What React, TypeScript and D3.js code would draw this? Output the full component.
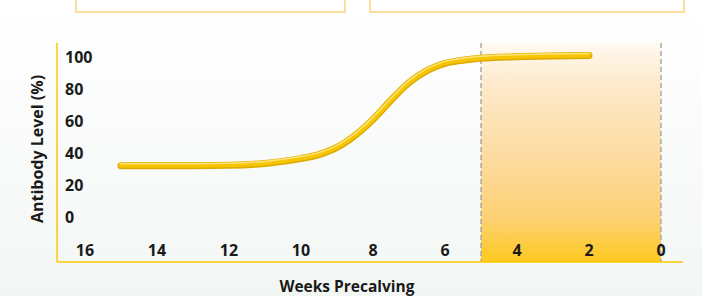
import React from 'react'
import * as d3 from 'd3'

// antibody curve
const weeks = [15, 14, 13, 12, 11, 10, 9.5, 9, 8.5, 8, 7.5, 7, 6.5, 6, 5.5, 5, 4, 3, 2]
const antibody = [32, 32, 32, 32.3, 33.5, 36.5, 39, 43.5, 51, 61, 73, 84, 91.5, 96, 98, 99.2, 100.2, 100.7, 101]
const xTicks = [16, 14, 12, 10, 8, 6, 4, 2, 0]
const yTicks = [0, 20, 40, 60, 80, 100]
const colostrumWindow = [5, 0]

const W = 702
const H = 296
const font = '"Open Sans", "DejaVu Sans", sans-serif'

const App = () => {
  const x = d3.scaleLinear().domain([16, 0]).range([85, 661])
  const y = d3.scaleLinear().domain([0, 100]).range([217, 57])
  const axisY = 262
  const axisX = 57
  const top = 43

  const points = weeks.map((w, i) => [w, antibody[i]] as [number, number])
  const line = d3.line<[number, number]>()
    .x(d => x(d[0]))
    .y(d => y(d[1]))
    .curve(d3.curveMonotoneX)
  const path = line(points) || ''

  const x0 = x(colostrumWindow[0])
  const x1 = x(colostrumWindow[1])

  return (
    <div style={{ position: 'fixed', left: 0, top: 0 }}>
      <svg width={W} height={H} style={{ display: 'block' }}>
        <defs>
          <linearGradient id="bg" x1="0" y1="0" x2="0" y2="1">
            <stop offset="0%" stopColor="#ffffff" />
            <stop offset="100%" stopColor="#f3f7f4" />
          </linearGradient>
          <linearGradient id="band" x1="0" y1="0" x2="0" y2="1">
            <stop offset="0%" stopColor="#fff9f0" />
            <stop offset="22%" stopColor="#fee8c6" />
            <stop offset="50%" stopColor="#fddca4" />
            <stop offset="80%" stopColor="#fdd174" />
            <stop offset="100%" stopColor="#fdc91e" />
          </linearGradient>
        </defs>
        <rect width={W} height={H} fill="url(#bg)" />

        {/* boxes cut off at the top */}
        <rect x={76} y={-20} width={269} height={32} fill="#ffffff" stroke="#fdd37a" strokeWidth={1.5} />
        <rect x={370} y={-20} width={314} height={32} fill="#ffffff" stroke="#fdd37a" strokeWidth={1.5} />

        <rect x={x0} y={top} width={x1 - x0} height={axisY - top} fill="url(#band)" />
        {colostrumWindow.map(w => (
          <line key={w} x1={x(w)} x2={x(w)} y1={top} y2={axisY}
            stroke="#a9a9a9" strokeWidth={1.5} strokeDasharray="5,3" />
        ))}

        <line x1={axisX} x2={axisX} y1={top} y2={axisY} stroke="#fcc800" strokeWidth={1.5} />
        <line x1={axisX} x2={683} y1={axisY} y2={axisY} stroke="#fcc800" strokeWidth={1.5} />

        <path d={path} fill="none" stroke="#dcaa00" strokeWidth={7} strokeLinecap="round" />
        <path d={path} fill="none" stroke="#f6c500" strokeWidth={5} strokeLinecap="round" transform="translate(0,-0.5)" />
        <path d={path} fill="none" stroke="#fde27a" strokeWidth={1.5} strokeLinecap="round" transform="translate(0,-2)" />

        {yTicks.map(t => (
          <text key={t} x={65} y={y(t)} dy="0.35em" fontFamily={font} fontWeight="bold"
            fontSize={16} fill="#1a1a1a">{t}</text>
        ))}
        {xTicks.map(t => (
          <text key={t} x={x(t)} y={250} dy="0.35em" textAnchor="middle" fontFamily={font}
            fontWeight="bold" fontSize={16} fill="#1a1a1a">{t}</text>
        ))}

        <text transform="translate(37,149) rotate(-90)" textAnchor="middle" dy="0.35em"
          fontFamily={font} fontWeight="bold" fontSize={16} fill="#1a1a1a">Antibody Level (%)</text>
        <text x={347} y={287} textAnchor="middle" dy="0.35em" fontFamily={font}
          fontWeight="bold" fontSize={15.5} fill="#1a1a1a">Weeks Precalving</text>
      </svg>
    </div>
  )
}

export default App
